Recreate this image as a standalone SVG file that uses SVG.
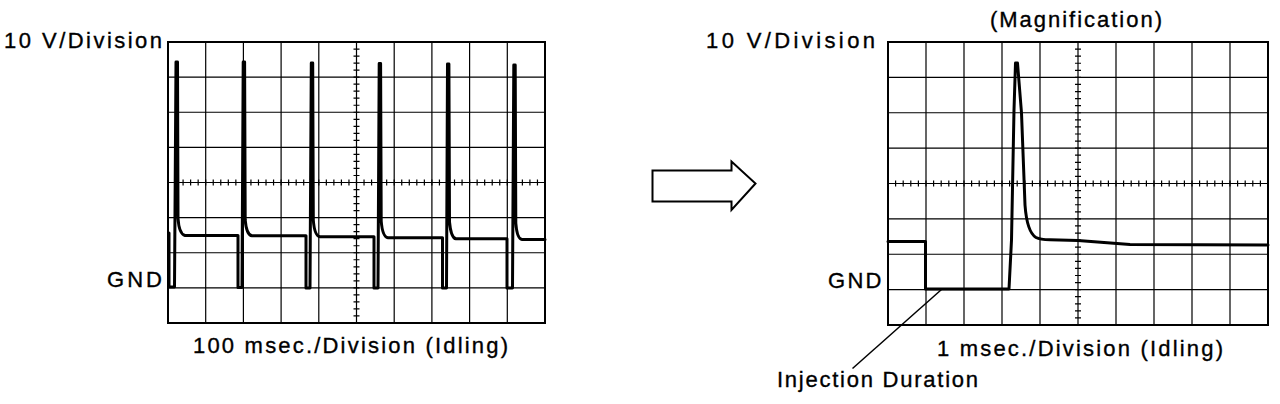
<svg xmlns="http://www.w3.org/2000/svg" width="1280" height="404" viewBox="0 0 1280 404">
  <style>
    .bg { fill: #ffffff; }
    .frame { fill: none; stroke: #000; stroke-width: 2; }
    .grid { fill: none; stroke: #000; stroke-width: 1.2; }
    .tick { fill: none; stroke: #000; stroke-width: 6; }
    .trace { fill: none; stroke: #000; stroke-width: 3; stroke-linejoin: round; stroke-linecap: round; }
    .lbl { font-family: "Liberation Sans", Arial, Helvetica, sans-serif; font-size: 22px; fill: #000; stroke: #000; stroke-width: 0.35; }
    .lead { fill: none; stroke: #000; stroke-width: 1.5; }
  </style>
  <rect class="bg" x="0" y="0" width="1280" height="404"/>

  <g id="left-scope">
    <path class="grid" d="M205.7,42V323 M243.4,42V323 M281.1,42V323 M318.8,42V323 M356.5,42V323 M394.2,42V323 M431.9,42V323 M469.6,42V323 M507.3,42V323 M168,77.1H545 M168,112.25H545 M168,147.4H545 M168,182.5H545 M168,217.6H545 M168,252.75H545 M168,287.9H545"/>
    <line class="tick" x1="168" y1="182.5" x2="545" y2="182.5" stroke-dasharray="1.2 6.34" stroke-dashoffset="0.6"/>
    <line class="tick" x1="356.5" y1="42" x2="356.5" y2="323" stroke-dasharray="1.2 5.825" stroke-dashoffset="0.6"/>
    <rect class="frame" x="168" y="42" width="377" height="281"/>
    <path class="trace" d="M169,233 L169,287 L174.5,287 L176,62 L177.5,62 L178,218 Q179,234 185,235.5 L238,235.5 L238,287.5 L242,287.5 L243.2,62 L244.6,62 L245.2,220 Q246.5,235 252,235.8 L306,235.8 L306,288 L310,288 L311.3,63 L312.7,63 L313.3,220 Q314.5,236 320,236.8 L374,236.8 L374,288 L378,288 L379.2,63.5 L380.6,63.5 L381.2,221 Q382.5,237 388,237.8 L442.5,237.8 L442.5,288 L446.5,288 L447.5,64 L448.9,64 L449.5,222 Q451,238 456,238.8 L507,238.8 L507,288 L512.5,288 L513.8,65 L515.2,65 L515.8,223 Q517,239 522,239.5 L545,239.5"/>
    <text class="lbl" x="4" y="48" textLength="158" lengthAdjust="spacing">10 V/Division</text>
    <text class="lbl" x="107" y="286.5" textLength="55" lengthAdjust="spacing">GND</text>
    <text class="lbl" x="193" y="353" textLength="315" lengthAdjust="spacing">100 msec./Division (Idling)</text>
  </g>

  <g id="arrow">
    <polygon points="652.5,170.5 731.5,170.5 731.5,161.5 755.5,183.5 731.5,210 731.5,201.5 652.5,201.5" fill="#fff" stroke="#000" stroke-width="2" stroke-linejoin="miter"/>
  </g>

  <g id="right-scope">
    <path class="grid" d="M926,42V325 M964,42V325 M1002,42V325 M1040,42V325 M1078,42V325 M1116,42V325 M1154,42V325 M1192,42V325 M1230,42V325 M888,77.4H1268 M888,112.75H1268 M888,148.1H1268 M888,183.5H1268 M888,218.9H1268 M888,254.25H1268 M888,289.6H1268"/>
    <line class="tick" x1="888" y1="183.5" x2="1268" y2="183.5" stroke-dasharray="1.2 6.4" stroke-dashoffset="0.6"/>
    <line class="tick" x1="1078" y1="42" x2="1078" y2="325" stroke-dasharray="1.2 5.875" stroke-dashoffset="0.6"/>
    <rect class="frame" x="888" y="42" width="380" height="283"/>
    <path class="trace" d="M888,241.5 L925.5,241.5 L925.5,289 L1009,289 L1011.5,240 L1014,110 L1015.5,63 L1017.5,63 L1021.5,113 L1025,205 Q1027,232 1036,237.5 Q1040,239.5 1050,239.8 L1078,240.5 L1130,244.5 L1268,245"/>
    <text class="lbl" x="990" y="27" textLength="172" lengthAdjust="spacing">(Magnification)</text>
    <text class="lbl" x="706" y="48" textLength="169" lengthAdjust="spacing">10 V/Division</text>
    <text class="lbl" x="828" y="288" textLength="53.5" lengthAdjust="spacing">GND</text>
    <text class="lbl" x="937" y="355.5" textLength="286" lengthAdjust="spacing">1 msec./Division (Idling)</text>
  </g>

  <g id="injection-duration">
    <text class="lbl" x="777" y="387" textLength="201" lengthAdjust="spacing">Injection Duration</text>
  </g>

  <g id="connectors">
    <line class="lead" x1="941.5" y1="289.5" x2="852.5" y2="368.5"/>
  </g>
</svg>
